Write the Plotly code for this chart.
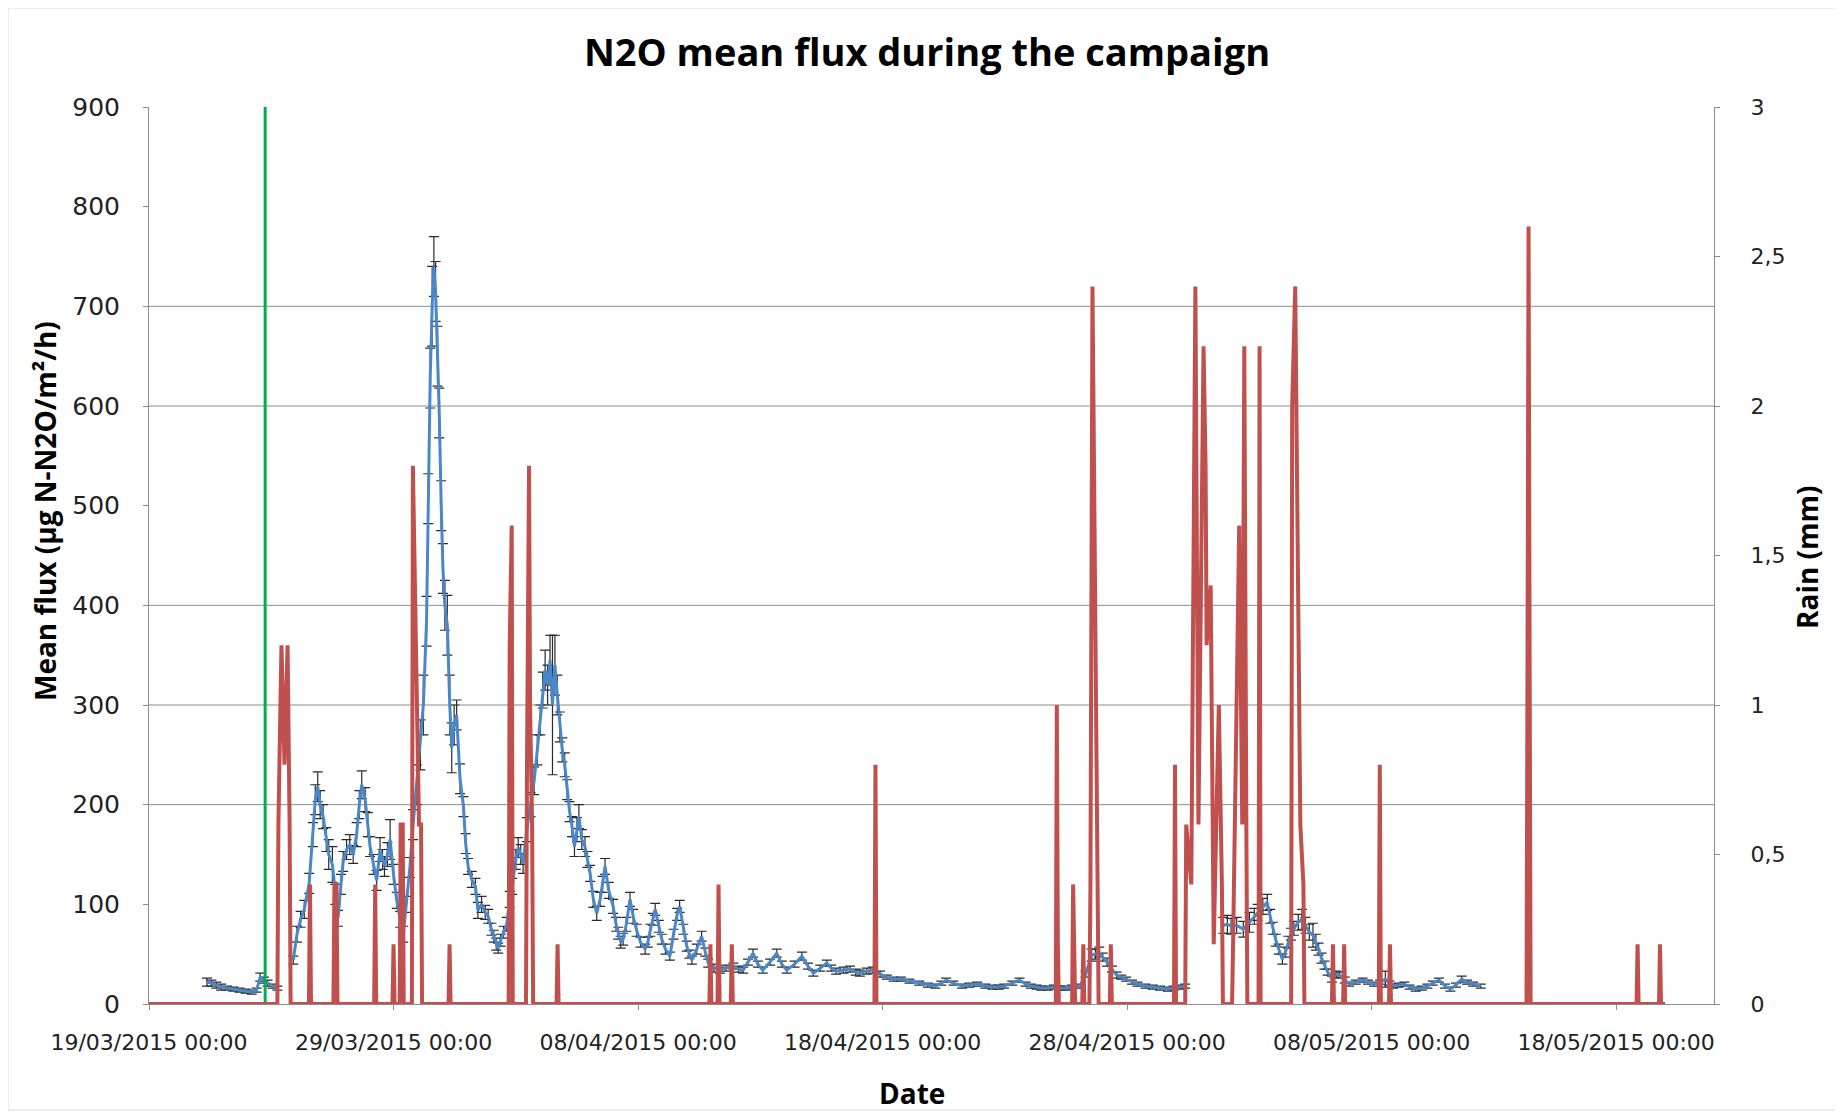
import pandas as pd
import plotly.graph_objects as go

# ---------------- data ----------------
CAMPAIGN_START = "2015-03-19 00:00"

# N2O mean flux: measurement time (days since campaign start), mean flux and error (µg N-N2O/m²/h)
FLUX_DAY = [
    2.37, 2.55, 2.75, 2.95, 3.2, 3.45, 3.7, 3.95, 4.2, 4.4, 4.55, 4.7, 4.85, 5.05, 5.25,
    5.9, 6.05, 6.2, 6.35, 6.55, 6.7, 6.8, 6.9, 7.0, 7.12, 7.25, 7.35, 7.5, 7.62, 7.73, 7.85, 7.94,
    8.08, 8.21, 8.35, 8.49, 8.6, 8.7, 8.84, 8.95, 9.04, 9.18, 9.31, 9.45, 9.55, 9.63, 9.75, 9.86,
    10.0, 10.13, 10.27, 10.4, 10.52, 10.67, 10.8, 10.95, 11.1, 11.22, 11.35, 11.42, 11.5, 11.58,
    11.65, 11.72, 11.8, 11.87, 11.95, 12.02, 12.1, 12.2, 12.3, 12.38, 12.48, 12.58, 12.72, 12.86,
    12.95, 13.05, 13.2, 13.35, 13.45, 13.6, 13.75, 13.87, 14.0, 14.1, 14.2, 14.28, 14.38, 14.5,
    14.63, 14.75, 14.85, 15.0, 15.1, 15.2, 15.3, 15.45, 15.6, 15.75, 15.88, 16.0, 16.1, 16.2, 16.3,
    16.4, 16.5, 16.6, 16.7, 16.8, 16.9, 17.0, 17.1, 17.2, 17.3, 17.4, 17.5, 17.58, 17.7, 17.83,
    17.93, 18.04, 18.17, 18.31, 18.45, 18.55, 18.65, 18.8, 18.98, 19.1, 19.19, 19.29, 19.39, 19.52,
    19.67, 19.8, 19.94, 20.1, 20.29, 20.4, 20.5, 20.6, 20.7, 20.85, 20.97, 21.12, 21.3, 21.45, 21.6,
    21.7, 21.85, 21.99, 22.1, 22.2, 22.4, 22.6, 22.75, 22.87, 23.1, 23.35, 23.6, 23.9, 24.1, 24.3,
    24.5, 24.7, 24.9, 25.1, 25.4, 25.67, 25.88, 26.08, 26.4, 26.7, 26.95, 27.17, 27.45, 27.72, 27.9,
    28.1, 28.4, 28.67, 28.9, 29.07, 29.35, 29.6, 29.9, 30.17, 30.45, 30.75, 31.1, 31.5, 31.85, 32.16,
    32.4, 32.6, 32.9, 33.25, 33.55, 33.87, 34.2, 34.5, 34.75, 34.97, 35.3, 35.6, 35.85, 36.06, 36.3,
    36.5, 36.75, 37.0, 37.25, 37.46, 37.75, 38.08, 38.3, 38.55, 38.7, 38.86, 39.0, 39.18, 39.38,
    39.57, 39.76, 39.96, 40.2, 40.42, 40.75, 41.05, 41.35, 41.67, 41.9, 42.14, 42.37,
    43.93, 44.1, 44.25, 44.48, 44.75, 45.0, 45.2, 45.34, 45.55, 45.73, 45.85, 45.96, 46.08, 46.2,
    46.35, 46.47, 46.59, 46.7, 46.82, 47.0, 47.15, 47.29, 47.45, 47.6, 47.72, 47.83, 47.95, 48.07,
    48.2, 48.38, 48.55, 48.69, 48.9, 49.08, 49.35, 49.63, 49.85, 50.1, 50.35, 50.56, 50.72, 50.88,
    51.1, 51.34, 51.55, 51.8, 52.05, 52.28, 52.5, 52.75, 53.0, 53.22, 53.45, 53.68, 53.9, 54.15, 54.46,
]
FLUX_MEAN = [
    22, 21, 19, 17, 16, 15, 14, 13, 12, 14, 27, 24, 21, 18, 16,
    44, 70, 85, 95, 121, 170, 205, 218, 200, 188, 165, 150, 140, 110, 86, 120, 143,
    155, 160, 150, 170, 200, 220, 205, 180, 158, 140, 124, 155, 145, 138, 150, 165,
    130, 104, 85, 70, 100, 137, 180, 220, 260, 300, 384, 507, 628, 700,
    740, 715, 650, 593, 500, 437, 400, 380, 300, 257, 280, 290, 226, 198,
    161, 138, 125, 118, 94, 100, 92, 88, 75, 68, 60, 56, 64, 72,
    80, 105, 118, 145, 157, 150, 141, 175, 200, 224, 255, 285, 315, 335, 320,
    345, 300, 340, 310, 278, 255, 240, 215, 193, 178, 158, 175, 188, 165, 158,
    145, 131, 105, 91, 105, 120, 138, 114, 98, 80, 71, 62, 65, 80,
    105, 88, 74, 62, 55, 62, 74, 85, 95, 78, 65, 55, 48, 70, 90,
    98, 75, 58, 50, 44, 55, 68, 52, 41, 36, 34, 36, 38, 35, 34,
    42, 51, 40, 34, 42, 51, 40, 34, 40, 48, 38, 31, 36, 41, 36,
    33, 34, 35, 32, 31, 33, 34, 30, 27, 25, 25, 23, 21, 19, 18,
    21, 24, 21, 18, 19, 20, 18, 17, 17, 18, 21, 24, 20, 18, 17,
    16, 16, 17, 16, 16, 17, 18, 30, 49, 50, 52, 47, 42, 35,
    29, 27, 25, 22, 20, 18, 17, 16, 15, 16, 17, 18,
    79, 80, 78, 79, 75, 82, 88, 92, 98, 102, 88, 76, 64, 55,
    45, 52, 62, 70, 76, 82, 85, 79, 72, 69, 62, 55, 46, 39,
    32, 25, 30, 29, 24, 20, 22, 24, 22, 20, 22, 25, 21, 18,
    19, 20, 17, 15, 16, 18, 21, 24, 18, 15, 19, 25, 22, 20, 18,
]
FLUX_ERR = [
    4, 3, 3, 3, 2, 2, 2, 2, 2, 2, 4, 3, 3, 2, 2,
    4, 8, 8, 9, 10, 12, 15, 15, 14, 12, 12, 15, 18, 10, 8, 10, 10,
    10, 10, 9, 12, 14, 14, 12, 12, 10, 10, 10, 12, 10, 10, 12, 20,
    10, 8, 8, 8, 8, 10, 15, 20, 25, 30, 25, 25, 30, 40,
    30, 30, 30, 25, 25, 25, 25, 30, 30, 25, 20, 15, 15, 10,
    10, 8, 8, 8, 8, 8, 7, 7, 6, 6, 6, 5, 6, 6,
    7, 8, 8, 10, 10, 10, 10, 12, 12, 14, 15, 15, 18, 20, 20,
    25, 70, 30, 20, 15, 12, 12, 10, 10, 10, 10, 12, 12, 10, 10,
    8, 8, 8, 7, 7, 8, 8, 8, 7, 7, 6, 6, 6, 7,
    7, 7, 6, 5, 5, 5, 6, 6, 6, 6, 5, 5, 4, 5, 6,
    6, 5, 5, 4, 4, 5, 5, 4, 4, 4, 3, 3, 3, 3, 3,
    3, 4, 3, 3, 3, 4, 3, 3, 3, 4, 3, 3, 3, 3, 3,
    3, 3, 3, 3, 3, 3, 3, 3, 2, 2, 2, 2, 2, 2, 2,
    2, 2, 2, 2, 2, 2, 2, 2, 2, 2, 2, 2, 2, 2, 2,
    2, 2, 2, 2, 2, 2, 2, 3, 6, 5, 5, 4, 4, 3,
    3, 2, 2, 2, 2, 2, 2, 2, 2, 2, 2, 2,
    8, 9, 8, 8, 8, 10, 8, 8, 8, 8, 7, 6, 6, 5,
    5, 5, 6, 6, 7, 8, 10, 8, 8, 12, 8, 6, 5, 4,
    3, 3, 3, 3, 3, 2, 2, 2, 2, 2, 2, 8, 2, 2,
    2, 2, 2, 2, 2, 2, 2, 2, 2, 2, 2, 3, 2, 2, 2,
]

# Rain: hours since campaign start and rain amount (mm); rain is zero at all other hours
RAIN_HOUR = [
    127, 130, 133, 136, 138,
    158, 182, 184, 222, 240, 247, 249, 259, 260, 265, 267, 295,
    354, 356, 371, 372, 373, 374, 376, 401,
    551, 559, 572, 713,
    891, 892, 907, 908, 917, 924, 926, 931, 944,
    1007, 1018, 1023, 1027, 1030, 1035, 1037, 1038, 1042, 1045, 1050, 1053,
    1064, 1070, 1073, 1075, 1077, 1090,
    1122, 1125, 1130, 1133, 1162, 1173, 1208, 1218,
    1353, 1354, 1355, 1461, 1483,
]
RAIN_MM = [
    0.6, 1.2, 0.8, 1.2, 0.6,
    0.4, 0.4, 0.4, 0.4, 0.2, 0.6, 0.6, 1.8, 1.6, 0.6, 0.6, 0.2,
    1.2, 1.6, 0.8, 1.2, 1.8, 1.0, 0.6, 0.2,
    0.2, 0.4, 0.2, 0.8,
    1.0, 0.2, 0.4, 0.2, 0.2, 0.4, 2.4, 0.4, 0.2,
    0.8, 0.6, 0.4, 2.4, 0.6, 2.2, 1.8, 1.2, 1.4, 0.2, 1.0, 0.4,
    0.2, 1.6, 0.6, 2.2, 0.6, 2.2,
    2.0, 2.4, 0.6, 0.4, 0.2, 0.2, 0.8, 0.2,
    1.2, 2.6, 1.2, 0.2, 0.2,
]
RAIN_RECORD_END_HOUR = 1488

# Fertilisation marker (vertical green line)
FERTILISATION_TIME = "2015-03-23 18:00"
FERTILISATION_Y = [0, 900]

# Axes
X_RANGE = ["2015-03-19 00:00", "2015-05-22 00:00"]
X_TICK_DAYS = 10
FLUX_TICKS = [0, 100, 200, 300, 400, 500, 600, 700, 800, 900]
RAIN_TICKS = [0, 0.5, 1, 1.5, 2, 2.5, 3]
RAIN_TICK_LABELS = ["0", "0,5", "1", "1,5", "2", "2,5", "3"]
GRID_VALUES = [200, 300, 400, 600, 700]

# ---------------- build ----------------
start = pd.Timestamp(CAMPAIGN_START)

fx, fy, fe = [], [], []
prev = None
for d, v, e in zip(FLUX_DAY, FLUX_MEAN, FLUX_ERR):
    if prev is not None and d - prev > 0.6:
        fx.append(start + pd.Timedelta(days=(prev + d) / 2))
        fy.append(None)
        fe.append(None)
    fx.append(start + pd.Timedelta(days=d))
    fy.append(v)
    fe.append(e)
    prev = d

rx, ry = [0], [0.0]
prev = None
for h, v in zip(RAIN_HOUR, RAIN_MM):
    if prev is None or h - prev > 6:
        if prev is not None:
            rx.append(prev + 1)
            ry.append(0.0)
        rx.append(h - 1)
        ry.append(0.0)
    rx.append(h)
    ry.append(v)
    prev = h
rx += [prev + 1, RAIN_RECORD_END_HOUR]
ry += [0.0, 0.0]
rx = [start + pd.Timedelta(hours=h) for h in rx]

fig = go.Figure()

fig.add_trace(go.Scatter(
    x=fx, y=fy, mode="lines", name="Mean flux",
    line=dict(color="#4A86C8", width=3),
    connectgaps=False,
    error_y=dict(type="data", array=fe, visible=True, color="#2B2B2B", thickness=1.2, width=5),
    yaxis="y",
))
fig.add_trace(go.Scatter(
    x=rx, y=ry, mode="lines", name="Rain",
    line=dict(color="#C0504D", width=4),
    yaxis="y2",
))
fig.add_trace(go.Scatter(
    x=[FERTILISATION_TIME, FERTILISATION_TIME], y=FERTILISATION_Y, mode="lines",
    name="Fertilisation", line=dict(color="#00B050", width=3), yaxis="y",
))

# page has an 8px body margin; figure sized so that the plot area lands where the reference has it
OFF = 8
W, H = 1835, 1109
ML, MR, MT, MB = 141, 129, 99, 113
pw, ph = W - ML - MR, H - MT - MB


def px_to_paper(sx, sy):
    fx_ = sx - OFF
    fy_ = sy - OFF
    return (fx_ - ML) / pw, 1 - (fy_ - MT) / ph


shapes = [
    dict(type="line", xref="paper", yref="y", x0=0, x1=1, y0=g, y1=g,
         line=dict(color="#8C8C8C", width=1), layer="below")
    for g in GRID_VALUES
]
fx0, fy0 = px_to_paper(8, 8)
fx1, fy1 = px_to_paper(1836, 1110)
shapes.append(dict(type="rect", xref="paper", yref="paper",
                   x0=fx0, x1=fx1, y0=fy1, y1=fy0,
                   line=dict(color="#D9D9D9", width=1), layer="below"))

axis_font = dict(family="DejaVu Sans", size=22, color="#222222")
left_font = dict(family="DejaVu Sans", size=25, color="#222222")
lab_font = dict(family="Open Sans", size=28, color="#000000")

ytx, yty = px_to_paper(45, 511)
dtx, dty = px_to_paper(912, 1093)
rtx, rty = px_to_paper(1807, 557)

annotations = [
    dict(text="<b>Mean flux (µg N-N2O/m²/h)</b>", xref="paper", yref="paper",
         x=ytx, y=yty, xanchor="center", yanchor="middle", textangle=-90,
         showarrow=False, font=lab_font),
    dict(text="<b>Date</b>", xref="paper", yref="paper",
         x=dtx, y=dty, xanchor="center", yanchor="middle",
         showarrow=False, font=lab_font),
    dict(text="<b>Rain (mm)</b>", xref="paper", yref="paper",
         x=rtx, y=rty, xanchor="center", yanchor="middle", textangle=-90,
         showarrow=False, font=lab_font),
]

fig.update_layout(
    width=W, height=H,
    margin=dict(l=ML, r=MR, t=MT, b=MB),
    paper_bgcolor="white", plot_bgcolor="white",
    showlegend=False,
    title=dict(text="<b>N2O mean flux during the campaign</b>", xref="container",
               x=(927 - OFF) / W, xanchor="center",
               y=1 - (53 - OFF) / H, yanchor="middle",
               font=dict(family="Open Sans", size=38, color="#000000")),
    xaxis=dict(
        type="date", range=X_RANGE, tick0=X_RANGE[0], dtick=X_TICK_DAYS * 86400000,
        tickformat="%d/%m/%Y %H:%M", tickfont=axis_font,
        showgrid=False, zeroline=False, showline=True, linecolor="#8C8C8C", linewidth=1,
        ticks="outside", ticklen=5, tickcolor="#8C8C8C", ticklabelstandoff=14,
    ),
    yaxis=dict(
        range=[0, 900], tickvals=FLUX_TICKS, tickfont=left_font,
        showgrid=False, zeroline=False, showline=True, linecolor="#8C8C8C", linewidth=1,
        ticks="outside", ticklen=5, tickcolor="#8C8C8C", ticklabelstandoff=18,
    ),
    yaxis2=dict(
        range=[0, 3], overlaying="y", side="right",
        tickvals=RAIN_TICKS, ticktext=RAIN_TICK_LABELS, tickfont=axis_font,
        showgrid=False, zeroline=False, showline=True, linecolor="#8C8C8C", linewidth=1,
        ticks="outside", ticklen=5, tickcolor="#8C8C8C", ticklabelstandoff=26,
    ),
    shapes=shapes,
    annotations=annotations,
)

fig.write_html("out.html")
